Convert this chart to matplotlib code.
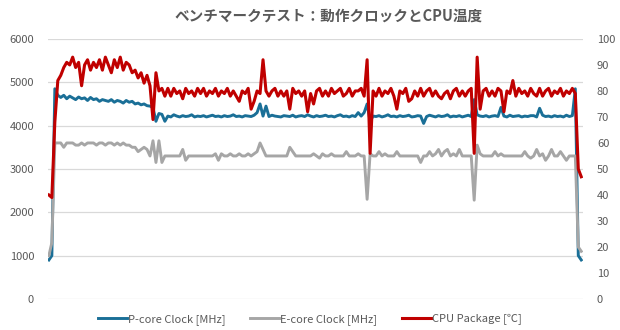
import numpy as np
import matplotlib.pyplot as plt

plt.rcParams['font.family'] = ['Noto Sans CJK JP', 'DejaVu Sans']

# P-core clock [MHz]
p_core = [
    900, 1000, 4850, 4700, 4650, 4700, 4620, 4680, 4640, 4600, 4660, 4620, 4640, 4580, 4650, 4600, 4620, 4560, 4600, 4580,
    4560, 4600, 4540, 4580, 4560, 4520, 4580, 4540, 4560, 4500, 4520, 4480, 4500, 4460, 4450, 4420, 4100, 4280, 4260, 4100,
    4220, 4200, 4250, 4220, 4200, 4230, 4210, 4220, 4250, 4200, 4220, 4210, 4230, 4200, 4220, 4240, 4210, 4220, 4200, 4230,
    4210, 4220, 4250, 4210, 4220, 4200, 4230, 4220, 4210, 4240, 4300, 4500, 4220, 4450, 4210, 4240, 4220, 4210, 4200, 4230,
    4220, 4210, 4240, 4200, 4220, 4230, 4210, 4250, 4220, 4200, 4230, 4210, 4220, 4240, 4210, 4220, 4200, 4230, 4250, 4210,
    4220, 4200, 4230, 4210, 4300, 4220, 4300, 4500, 4100, 4220, 4210, 4230, 4200, 4220, 4250, 4210, 4220, 4200, 4230, 4210,
    4220, 4240, 4200, 4210, 4230, 4220, 4050, 4210, 4240, 4220, 4200, 4230, 4210, 4220, 4250, 4200, 4220, 4210, 4230, 4200,
    4220, 4240, 4210, 4600, 4250, 4220, 4210, 4230, 4200, 4220, 4230, 4210, 4420, 4220, 4200, 4240, 4210, 4220, 4230, 4200,
    4220, 4210, 4230, 4230, 4200, 4400, 4240, 4210, 4220, 4200, 4230, 4210, 4220, 4200, 4240, 4210, 4230, 4850, 1000, 900,
]

# E-core clock [MHz]
e_core = [
    1000, 1300, 3600, 3600, 3600, 3500, 3600, 3600, 3600, 3550, 3550, 3600, 3550, 3600, 3600, 3600, 3550, 3600, 3600, 3550,
    3600, 3600, 3550, 3600, 3550, 3600, 3550, 3550, 3500, 3500, 3400, 3450, 3500, 3450, 3300, 3650, 3150, 3650, 3150, 3300,
    3300, 3300, 3300, 3300, 3300, 3450, 3200, 3300, 3300, 3300, 3300, 3300, 3300, 3300, 3300, 3300, 3350, 3200, 3350, 3300,
    3300, 3350, 3300, 3300, 3350, 3300, 3300, 3350, 3300, 3350, 3400, 3600, 3450, 3300, 3300, 3300, 3300, 3300, 3300, 3300,
    3300, 3500, 3400, 3300, 3300, 3300, 3300, 3300, 3300, 3350, 3300, 3250, 3350, 3300, 3300, 3350, 3300, 3300, 3300, 3300,
    3400, 3300, 3300, 3300, 3350, 3300, 3300, 2300, 3350, 3300, 3300, 3400, 3300, 3350, 3300, 3300, 3300, 3400, 3300, 3300,
    3300, 3300, 3300, 3300, 3300, 3150, 3300, 3300, 3400, 3300, 3350, 3450, 3300, 3400, 3450, 3300, 3350, 3300, 3450, 3300,
    3300, 3300, 3300, 2280, 3550, 3350, 3300, 3300, 3300, 3300, 3400, 3300, 3350, 3300, 3300, 3300, 3300, 3300, 3300, 3300,
    3400, 3300, 3250, 3300, 3450, 3300, 3350, 3200, 3300, 3450, 3300, 3300, 3400, 3300, 3200, 3300, 3300, 3300, 1200, 1100,
]

# CPU package temperature [C]
cpu_temp = [
    40, 39, 68, 84, 86, 89, 91, 90, 93, 89, 91, 82, 90, 92, 88, 91, 89, 92, 88, 93,
    90, 87, 92, 89, 93, 88, 91, 90, 87, 88, 85, 87, 83, 86, 82, 69, 87, 80, 81, 78,
    81, 78, 81, 79, 80, 77, 81, 79, 80, 78, 81, 79, 81, 78, 80, 79, 81, 78, 80, 79,
    81, 78, 80, 78, 76, 80, 79, 81, 73, 76, 80, 79, 92, 80, 78, 80, 81, 78, 80, 78,
    80, 73, 81, 79, 80, 78, 80, 72, 79, 75, 80, 81, 78, 80, 78, 81, 79, 80, 81, 78,
    79, 81, 78, 80, 80, 81, 78, 92, 56, 80, 78, 81, 78, 80, 79, 81, 78, 73, 80, 79,
    81, 76, 77, 80, 78, 81, 78, 80, 81, 78, 80, 78, 77, 79, 80, 77, 80, 81, 78, 80,
    78, 80, 81, 56, 93, 73, 80, 81, 78, 80, 78, 81, 80, 72, 80, 79, 84, 78, 81, 79,
    80, 78, 81, 79, 78, 81, 78, 80, 81, 78, 80, 79, 81, 78, 80, 79, 81, 79, 50, 47,
]

x = np.arange(len(cpu_temp))

txt = '#595959'
fig = plt.figure(figsize=(6.2, 3.3), dpi=100)
ax = fig.add_axes([0.0774, 0.094, 0.863, 0.788])
ax2 = ax.twinx()

l1, = ax.plot(x, p_core, color='#1A6F97', lw=2.1, label='P-core Clock [MHz]')
l2, = ax.plot(x, e_core, color='#A6A6A6', lw=2.1, label='E-core Clock [MHz]')
l3, = ax2.plot(x, cpu_temp, color='#C00000', lw=2.2, label='CPU Package [℃]')

ax.set_ylim(0, 6000)
ax.set_yticks(range(0, 6001, 1000))
ax2.set_ylim(0, 100)
ax2.set_yticks(range(0, 101, 10))
ax.set_xlim(-0.3, len(x) - 0.4)
ax.set_xticks([])

ax.grid(axis='y', color='#D9D9D9', lw=0.9)
ax.set_axisbelow(True)
for a in (ax, ax2):
    for s in a.spines.values():
        s.set_visible(False)
    a.tick_params(axis='y', length=0, labelsize=8, colors=txt, pad=10)

fig.text(0.53, 0.952, 'ベンチマークテスト：動作クロックとCPU温度', ha='center', va='center',
         fontsize=10.5, fontweight='bold', color=txt)

fig.legend(handles=[l1, l2, l3], loc='center', bbox_to_anchor=(0.5, 0.033), ncol=3,
           frameon=False, fontsize=8, labelcolor=txt, handlelength=2.6,
           handletextpad=0.1, columnspacing=2.2)

fig.savefig('out.png', dpi=100)
